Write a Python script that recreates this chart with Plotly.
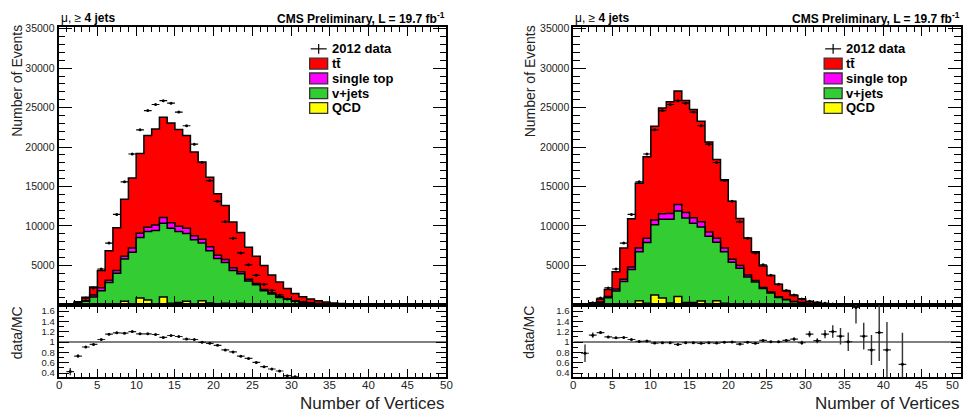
import plotly.graph_objects as go
import numpy as np

W, H = 963, 416
edges = list(range(51))
centers = [i + 0.5 for i in range(50)]
xtick_vals = [0, 5, 10, 15, 20, 25, 30, 35, 40, 45, 50]

# observed data (same for both panels)
data = [0, 45, 280, 870, 2150, 4550, 7830, 11460, 15600, 19120, 22180, 24620, 25390, 25880,
        25560, 24430, 22700, 20370, 18040, 15750, 13120, 10520, 8430, 6580, 5080, 3750, 2620,
        1830, 1270, 760, 470, 310, 200, 100, 50, 32, 30, 20, 9, 5, 2, 0, 1, 0, 0, 0, 0, 0, 0, 0]

# left panel MC (no pile-up reweighting)
qcd_L = [0, 0, 15, 30, 50, 70, 80, 120, 450, 150, 875, 625, 150, 1000, 200, 290, 450, 100, 540, 250,
         60, 200, 50, 200, 30, 30, 20, 20, 10, 10, 5, 5, 0, 0, 0, 0, 0, 0, 0, 0, 0, 0, 0, 0, 0, 0, 0, 0, 0, 0]
vjets_L = [8, 55, 170, 420, 950, 1720, 2750, 3880, 5380, 6520, 7665, 8665, 9270, 9330, 9510, 9000, 8590,
           8150, 7290, 6620, 5810, 5170, 4320, 3760, 3010, 2510, 1770, 1355, 940, 700, 475, 335, 240,
           160, 105, 70, 45, 30, 20, 13, 8, 5, 3, 2, 1, 1, 0, 0, 0, 0]
stop_L = [2, 10, 30, 80, 250, 380, 300, 375, 340, 540, 540, 540, 705, 750, 710, 670, 670, 500, 500, 500,
          420, 380, 340, 250, 210, 170, 170, 125, 90, 80, 60, 40, 30, 20, 15, 10, 7, 5, 3, 2, 1, 1, 1,
          0, 0, 0, 0, 0, 0, 0]
ttbar_L = [5, 39, 175, 440, 1010, 2205, 3745, 5415, 7205, 8870, 10090, 11630, 12165, 12710, 12620,
           12250, 11750, 10625, 9790, 8790, 7790, 6830, 5790, 4950, 4050, 3440, 3040, 2300, 1860, 1290,
           920, 660, 480, 360, 255, 170, 118, 75, 49, 31, 21, 13, 8, 6, 4, 2, 2, 1, 1, 0]

# right panel MC (pile-up reweighted)
qcd_R = [0, 0, 8, 25, 40, 70, 80, 100, 540, 200, 1250, 875, 250, 1080, 290, 300, 500, 100, 540, 200,
         50, 150, 40, 100, 20, 10, 10, 5, 5, 0, 0, 0, 0, 0, 0, 0, 0, 0, 0, 0, 0, 0, 0, 0, 0, 0, 0, 0, 0, 0]
vjets_R = [3, 20, 102, 305, 860, 1680, 2870, 4380, 6180, 7700, 8900, 9975, 10600, 10820, 10710, 10050,
           9380, 8600, 7410, 6540, 5350, 4510, 3490, 2800, 2050, 1490, 920, 635, 385, 260, 135, 100, 55,
           27, 14, 10, 6, 6, 3, 1.5, 0.8, 0.5, 0.5, 0.3, 0.2, 0.1, 0, 0, 0, 0]
stop_R = [1, 4, 15, 50, 150, 250, 300, 310, 490, 560, 600, 700, 730, 810, 710, 690, 660, 550, 510, 470,
          380, 340, 270, 180, 150, 120, 90, 60, 40, 30, 15, 10, 7, 3, 2, 1, 1, 1, 1, 0.2, 0.1, 0.1, 0.1,
          0, 0, 0, 0, 0, 0, 0]
ttbar_R = [2, 33, 122, 355, 905, 2205, 3947, 6124, 8190, 10303, 11883, 13394, 14144, 14390, 14187,
           13712, 12742, 11388, 9948, 8635, 7340, 5936, 4681, 3669, 2702, 2108, 1584, 1073, 771, 480,
           258, 192, 112, 53, 29, 21, 11, 11, 6.6, 2.5, 1.5, 0.9, 1.15, 0.7, 0.4, 0.2, 0, 0, 0, 0]

# data / MC ratios
ratio_L = [None, 0.43, 0.73, 0.905, 0.955, 1.05, 1.152, 1.178, 1.171, 1.203, 1.159, 1.159, 1.146, 1.089,
           1.127, 1.108, 1.057, 1.05, 0.994, 0.975, 0.937, 0.848, 0.81, 0.727, 0.683, 0.606, 0.524,
           0.479, 0.441, 0.35, 0.33] + [None] * 19
ratio_L_err = [None, 0.07, 0.03, 0.015, 0.01, 0.01, 0.01, 0.01, 0.01, 0.01, 0.01, 0.01, 0.01, 0.01,
               0.01, 0.01, 0.01, 0.01, 0.01, 0.01, 0.01, 0.01, 0.01, 0.01, 0.01, 0.01, 0.01, 0.012,
               0.014, 0.015, 0.017] + [None] * 19
ratio_R = [None, 0.784, 1.133, 1.184, 1.10, 1.082, 1.088, 1.05, 1.013, 1.019, 0.98, 0.987, 0.987, 0.955,
           0.987, 0.987, 0.975, 0.987, 0.98, 0.994, 1.0, 0.962, 0.994, 0.975, 1.032, 1.006, 1.006, 1.032,
           1.057, 0.987, 1.152, 1.026, 1.152, 1.203, 1.114, 1.006, 1.67, 1.114, 0.848, 1.184, 0.848,
           None, 0.57] + [None] * 7
ratio_R_err = [None, 0.17, 0.05, 0.03, 0.02, 0.015, 0.012, 0.01, 0.01, 0.01, 0.01, 0.01, 0.01, 0.01,
               0.01, 0.01, 0.01, 0.01, 0.01, 0.01, 0.01, 0.01, 0.012, 0.014, 0.016, 0.02, 0.02, 0.025,
               0.03, 0.04, 0.06, 0.05, 0.08, 0.12, 0.16, 0.18, 0.31, 0.26, 0.29, 0.55, 0.54, None,
               0.61] + [None] * 7

legend_labels = ["2012 data", "tt\u0304", "single top", "v+jets", "QCD"]
colors = {"tt": "#ff0000", "st": "#ff00ff", "vj": "#33cc33", "qcd": "#ffff00"}
FONT = "Liberation Sans, Arial, Helvetica, sans-serif"


def px(x):
    return x / W


def py(y):
    return 1 - y / H


fig = go.Figure()


def add_stack(xa, ya, qcd, vj, st, tt):
    comps = [np.array(qcd, float), np.array(vj, float), np.array(st, float), np.array(tt, float)]
    cum = np.cumsum(comps, axis=0)  # qcd, +vj, +st, +tt
    order = [(3, colors["tt"]), (2, colors["st"]), (1, colors["vj"]), (0, colors["qcd"])]
    for idx, col in order:
        yv = list(cum[idx]) + [cum[idx][-1]]
        fig.add_trace(go.Scatter(x=edges, y=yv, xaxis=xa, yaxis=ya, mode="lines",
                                 line=dict(shape="hv", color="black", width=1.5),
                                 fill="tozeroy", fillcolor=col, showlegend=False, hoverinfo="skip"))
    dv = [d if d > 0 else None for d in data]
    fig.add_trace(go.Scatter(x=centers, y=dv, xaxis=xa, yaxis=ya, mode="markers",
                             marker=dict(color="black", size=3),
                             error_x=dict(type="constant", value=0.5, width=0, thickness=1.2, color="black"),
                             showlegend=False, hoverinfo="skip"))


def add_ratio(xa, ya, r, e):
    fig.add_trace(go.Scatter(x=[0, 50], y=[1, 1], xaxis=xa, yaxis=ya, mode="lines",
                             line=dict(color="#555555", width=1.5), showlegend=False, hoverinfo="skip"))
    fig.add_trace(go.Scatter(x=centers, y=r, xaxis=xa, yaxis=ya, mode="markers",
                             marker=dict(color="black", size=3),
                             error_x=dict(type="constant", value=0.5, width=0, thickness=1.2, color="#222"),
                             error_y=dict(type="data", array=[v if v is not None else 0 for v in e],
                                          width=0, thickness=1.4, color="#333"),
                             showlegend=False, hoverinfo="skip"))


add_stack("x", "y", qcd_L, vjets_L, stop_L, ttbar_L)
add_ratio("x2", "y2", ratio_L, ratio_L_err)
add_stack("x3", "y3", qcd_R, vjets_R, stop_R, ttbar_R)
add_ratio("x4", "y4", ratio_R, ratio_R_err)

panels = [(58.7, 446.7), (574.0, 961.5)]
main_dom = [py(304.3), py(22.6)]
ratio_dom = [py(377.7), py(304.3)]

axbase = dict(showline=True, linecolor="black", linewidth=2, mirror="allticks", ticks="inside",
              tickcolor="black", tickwidth=1.2, showgrid=False, zeroline=False,
              tickfont=dict(family=FONT, size=11, color="#222"))

layout = dict(width=W, height=H, margin=dict(l=0, r=0, t=0, b=0), autosize=False,
              paper_bgcolor="white", plot_bgcolor="white", showlegend=False,
              font=dict(family=FONT, color="black"))

for i, (x0, x1) in enumerate(panels):
    n_main = 2 * i + 1
    n_rat = 2 * i + 2
    sm = "" if n_main == 1 else str(n_main)
    dom = [px(x0), px(x1)]
    layout["xaxis" + sm] = dict(axbase, domain=dom, range=[0, 50], anchor="y" + sm, dtick=5, ticklen=9,
                                showticklabels=False,
                                minor=dict(ticks="inside", dtick=1, ticklen=4.5, tickcolor="black", tickwidth=1))
    layout["yaxis" + sm] = dict(axbase, domain=main_dom, range=[0, 35175], anchor="x" + sm,
                                tickvals=[5000, 10000, 15000, 20000, 25000, 30000, 35000],
                                ticktext=["5000", "10000", "15000", "20000", "25000", "30000", "35000"],
                                ticklen=13, tickfont=dict(family=FONT, size=10.5, color="#222"),
                                minor=dict(ticks="inside", dtick=1000, ticklen=6.5, tickcolor="black", tickwidth=1))
    layout["xaxis" + str(n_rat)] = dict(axbase, domain=dom, range=[0, 50], anchor="y" + str(n_rat), dtick=5,
                                        ticklen=8, showticklabels=False,
                                        minor=dict(ticks="inside", dtick=1, ticklen=4, tickcolor="black", tickwidth=1))
    layout["yaxis" + str(n_rat)] = dict(axbase, domain=ratio_dom, range=[0.32, 1.718], anchor="x" + str(n_rat),
                                        tickvals=[0.4, 0.6, 0.8, 1.0, 1.2, 1.4, 1.6],
                                        ticktext=["0.4", "0.6", "0.8", "1", "1.2", "1.4", "1.6"],
                                        ticklen=10, tickfont=dict(family=FONT, size=9.5, color="#222"),
                                        minor=dict(ticks="inside", dtick=0.1, ticklen=5, tickcolor="black", tickwidth=1))

fig.update_layout(**layout)

annotations = []
shapes = []
for i, (x0, x1) in enumerate(panels):
    ylab_x = 17 if i == 0 else 530
    xr = "x2" if i == 0 else "x4"
    for v in xtick_vals:
        edge_label = (i == 1 and v == 50)
        annotations.append(dict(text=str(v), x=(px(962) if edge_label else v), y=py(385.5),
                                xref=("paper" if edge_label else xr), yref="paper", showarrow=False,
                                xanchor=("right" if edge_label else "center"), yanchor="middle",
                                font=dict(family=FONT, size=11.5, color="#222")))
    annotations.append(dict(text="Number of Events", x=px(ylab_x), y=py(77), xref="paper", yref="paper",
                            textangle=-90, showarrow=False, xanchor="center", yanchor="middle",
                            font=dict(family=FONT, size=14, color="#222")))
    annotations.append(dict(text="data/MC", x=px(ylab_x), y=py(332), xref="paper", yref="paper",
                            textangle=-90, showarrow=False, xanchor="center", yanchor="middle",
                            font=dict(family=FONT, size=14, color="#222")))
    annotations.append(dict(text="Number of Vertices", x=px(x1 + 1), y=py(404.5), xref="paper", yref="paper",
                            showarrow=False, xanchor="right", yanchor="middle",
                            font=dict(family=FONT, size=17, color="#222")))
    annotations.append(dict(text="\u03bc, \u2265 <b>4 jets</b>", x=px(x0), y=py(13.5), xref="paper", yref="paper",
                            showarrow=False, xanchor="left", yanchor="middle",
                            font=dict(family=FONT, size=12, color="black")))
    annotations.append(dict(text="<b>CMS Preliminary, L = 19.7 fb<sup>-1</sup></b>", x=px(x1 + 1), y=py(13),
                            xref="paper", yref="paper", showarrow=False, xanchor="right", yanchor="middle",
                            font=dict(family=FONT, size=12, color="black")))
    # legend
    lx0 = 310 if i == 0 else 825
    rows = [44.5, 59.5, 74.5, 89.5, 104.5]
    fills = [None, colors["tt"], colors["st"], colors["vj"], colors["qcd"]]
    for lab, yy, col in zip(legend_labels, rows, fills):
        if col is None:
            shapes.append(dict(type="line", xref="paper", yref="paper", x0=px(lx0 + 1), x1=px(lx0 + 17),
                               y0=py(yy), y1=py(yy), line=dict(color="black", width=1.2)))
            shapes.append(dict(type="line", xref="paper", yref="paper", x0=px(lx0 + 9), x1=px(lx0 + 9),
                               y0=py(yy - 5), y1=py(yy + 5), line=dict(color="black", width=1.2)))
        else:
            shapes.append(dict(type="rect", xref="paper", yref="paper", x0=px(lx0), x1=px(lx0 + 18),
                               y0=py(yy + 5.5), y1=py(yy - 5.5), fillcolor=col,
                               line=dict(color="#333", width=1.3)))
        annotations.append(dict(text="<b>" + lab + "</b>", x=px(lx0 + 20), y=py(yy), xref="paper",
                                yref="paper", showarrow=False, xanchor="left", yanchor="middle",
                                font=dict(family=FONT, size=13, color="black")))

fig.update_layout(annotations=annotations, shapes=shapes)
fig.write_html("out.html")
